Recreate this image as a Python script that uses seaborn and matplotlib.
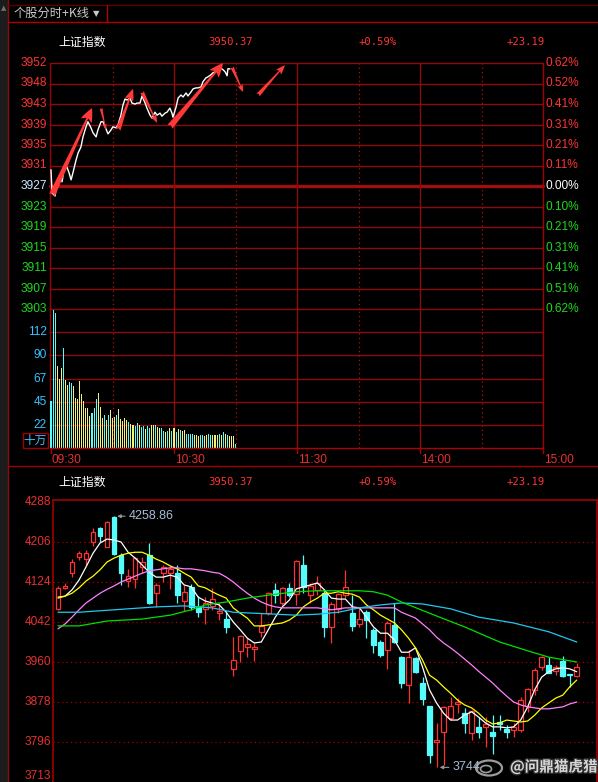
import matplotlib
matplotlib.use("Agg")
import matplotlib.pyplot as plt
import matplotlib.transforms as mtransforms
import matplotlib.patheffects as pe
from matplotlib.patches import Rectangle, Ellipse
from matplotlib.lines import Line2D
import numpy as np
import pandas as pd
import seaborn as sns

# ---------------- data ----------------
header_title = "个股分时+K线"
header_marker = "▼"
index_name = "上证指数"
last_price = "3950.37"
pct_change = "+0.59%"
abs_change = "+23.19"
prev_close = 3927.18
price_span = 24.35          # 0.62 % of prev close

price_labels_left = ["3952", "3948", "3943", "3939", "3935", "3931", "3927",
                     "3923", "3919", "3915", "3911", "3907", "3903"]
price_labels_right = ["0.62%", "0.52%", "0.41%", "0.31%", "0.21%", "0.11%", "0.00%",
                      "0.10%", "0.21%", "0.31%", "0.41%", "0.51%", "0.62%"]
time_labels = ["09:30", "10:30", "11:30", "14:00", "15:00"]
time_ticks = [0, 60, 120, 180, 240]
vol_tick_values = [112.0, 89.6, 67.2, 44.8, 22.4]
vol_tick_labels = ["112", "90", "67", "45", "22"]
vol_max = 134.4
vol_unit = "十万"

intraday_minutes = [0, 0.5, 2, 2.9, 4.4, 5.4, 6.3, 7.8, 8.8, 9.8,
                    10.7, 12.2, 13.2, 14.6, 15.6, 17.1, 18, 19.5, 20.5, 22,
                    22.9, 24.4, 25.4, 26.8, 27.8, 29.3, 30.2, 31.7, 32.7, 34.1,
                    35.1, 36.1, 37.1, 38.5, 39.5, 41, 42, 43.4, 44.4, 45.9,
                    46.8, 48.3, 49.3, 50.7, 51.7, 53.2, 54.1, 55.6, 56.6, 58,
                    59, 59.5, 61, 62, 63.4, 64.4, 65.9, 66.8, 68.3, 69.3,
                    70.7, 71.7, 73.2, 74.1, 75.6, 76.6, 78, 79, 80.5, 81.5,
                    82.9, 83.9, 84.9, 85.9, 86.3, 87.3]
intraday_price = [3930.4, 3925.8, 3925.2, 3927.8, 3929.4, 3928.0, 3930.4, 3930.9, 3929.8, 3928.4,
                  3929.8, 3932.3, 3933.7, 3934.9, 3936.9, 3938.9, 3939.9, 3938.7, 3937.7, 3936.9,
                  3938.3, 3939.9, 3939.9, 3938.5, 3937.5, 3938.3, 3938.9, 3938.7, 3939.3, 3941.2,
                  3943.2, 3944.4, 3944.2, 3944.6, 3943.6, 3943.4, 3943.6, 3943.6, 3945.0, 3943.6,
                  3942.6, 3941.2, 3940.6, 3941.8, 3941.2, 3941.6, 3941.0, 3941.6, 3941.8, 3942.6,
                  3941.6, 3940.8, 3942.8, 3944.6, 3945.2, 3944.8, 3945.6, 3945.0, 3945.8, 3946.4,
                  3946.6, 3946.6, 3946.8, 3947.8, 3948.6, 3948.8, 3949.2, 3949.6, 3949.8, 3950.4,
                  3950.5, 3950.2, 3949.8, 3949.0, 3950.4, 3950.37]

volume = [45, 133, 131, 79, 67, 77, 97, 66, 61, 64,
          63, 60, 48, 47, 65, 52, 45, 39, 39, 31,
          34, 39, 47, 53, 40, 29, 32, 27, 32, 37,
          29, 30, 32, 38, 28, 26, 29, 27, 25, 23,
          22, 21, 24, 22, 20, 21, 18, 21, 19, 22,
          22, 22, 20, 19, 19, 16, 15, 16, 19, 16,
          19, 15, 18, 17, 16, 17, 14, 14, 14, 14,
          13, 13, 12, 13, 13, 12, 13, 14, 13, 13,
          13, 13, 14, 13, 15, 14, 13, 12, 12, 12, 4]
volume_kind = list("cccyyycyyc" "cyyyyyyyyy" "cccyyycycy" "yycyyyyycy"
                   "yccyccyccy" "ycyyccycyc" "ycycyycccc" "yyyccyyccy" "yycycycyyy" "c")

# manual arrows drawn on the intraday chart (minute, price)
arrow_start_min = [0.5, 24.4, 32.7, 44.4, 58.0, 88.3, 101.0]
arrow_start_price = [3925.4, 3942.6, 3938.3, 3945.8, 3938.9, 3950.7, 3945.2]
arrow_end_min = [20.0, 26.8, 40.0, 51.7, 83.9, 93.7, 114.1]
arrow_end_price = [3942.6, 3938.3, 3946.4, 3939.7, 3951.5, 3945.8, 3951.1]

# daily K line
k_open = [4069, 4112, 4142, 4175, 4171, 4206, 4235, 4196, 4257, 4179,
          4126, 4130, 4155, 4179, 4101, 4142, 4142, 4142, 4085, 4114,
          4073, 4069, 4075, 4061, 4048, 3946, 3983, 3991, 3987, 4022,
          4060, 4108, 4081, 4112, 4099, 4159, 4097, 4108, 4101, 4032,
          4069, 4097, 4060, 4038, 4062, 4026, 4001, 3985, 4036, 3970,
          3913, 3968, 3917, 3870, 3796, 3816, 3845, 3874, 3855, 3814,
          3827, 3827, 3816, 3837, 3823, 3821, 3821, 3870, 3903, 3950,
          3954, 3942, 3962, 3935, 3931]
k_close = [4112, 4115, 4165, 4183, 4183, 4227, 4218, 4247, 4181, 4142,
           4136, 4173, 4165, 4081, 4118, 4155, 4151, 4097, 4103, 4073,
           4063, 4081, 4089, 4064, 4032, 3964, 4013, 3997, 3991, 4034,
           4101, 4097, 4112, 4097, 4167, 4114, 4116, 4122, 4032, 4079,
           4099, 4114, 4034, 4048, 4046, 3995, 3974, 4040, 4001, 3917,
           3970, 3940, 3884, 3769, 3800, 3868, 3870, 3878, 3835, 3860,
           3816, 3833, 3808, 3833, 3817, 3827, 3882, 3905, 3944, 3970,
           3937, 3950, 3931, 3933, 3950.37]
k_high = [4116, 4122, 4171, 4188, 4190, 4235, 4236, 4249, 4258.86, 4184,
          4151, 4175, 4175, 4204, 4122, 4159, 4157, 4159, 4118, 4120,
          4095, 4093, 4112, 4081, 4065, 4011, 4015, 4009, 3999, 4060,
          4103, 4122, 4114, 4122, 4169, 4179, 4122, 4136, 4108, 4083,
          4101, 4149, 4097, 4073, 4067, 4030, 4005, 4044, 4081, 3972,
          3985, 3970, 3929, 3870, 3835, 3870, 3888, 3886, 3866, 3862,
          3847, 3847, 3851, 3851, 3831, 3835, 3888, 3907, 3948, 3972,
          3970, 3954, 3972, 3935, 3958]
k_low = [4067, 4109, 4134, 4169, 4159, 4198, 4206, 4196, 4179, 4118,
         4114, 4112, 4142, 4079, 4073, 4124, 4110, 4081, 4065, 4067,
         4052, 4038, 4067, 4046, 4020, 3931, 3960, 3970, 3962, 4011,
         4056, 4081, 4077, 4093, 4077, 4101, 4081, 4097, 4011, 3999,
         4060, 4091, 4024, 4032, 4009, 3979, 3970, 3946, 3999, 3907,
         3876, 3937, 3872, 3753, 3744, 3749, 3841, 3855, 3814, 3800,
         3804, 3786, 3771, 3821, 3804, 3806, 3817, 3858, 3892, 3944,
         3937, 3933, 3929, 3909, 3929]
k_high_label = "4258.86"
k_low_label = "3744"

ma5 = [4093, 4095, 4108, 4128, 4155, 4183, 4204, 4212, 4210, 4206,
       4185, 4173, 4159, 4144, 4134, 4134, 4138, 4134, 4118, 4114,
       4093, 4085, 4081, 4077, 4062, 4042, 4026, 4009, 3999, 4001,
       4026, 4052, 4073, 4087, 4110, 4114, 4118, 4122, 4108, 4091,
       4089, 4089, 4073, 4071, 4052, 4032, 4019, 4019, 4005, 3980,
       3980, 3989, 3950, 3903, 3876, 3855, 3841, 3841, 3851, 3858,
       3847, 3835, 3827, 3827, 3825, 3827, 3841, 3868, 3903, 3929,
       3940, 3946, 3948, 3946, 3940]
ma10 = [4091, 4095, 4101, 4112, 4126, 4136, 4149, 4165, 4173, 4179,
        4183, 4185, 4185, 4179, 4171, 4165, 4157, 4151, 4142, 4134,
        4116, 4112, 4104, 4097, 4091, 4071, 4060, 4050, 4034, 4034,
        4036, 4038, 4040, 4046, 4056, 4073, 4083, 4091, 4101, 4101,
        4104, 4101, 4099, 4093, 4077, 4067, 4056, 4048, 4040, 4026,
        4009, 3989, 3964, 3933, 3923, 3909, 3896, 3882, 3872, 3866,
        3855, 3841, 3833, 3835, 3841, 3839, 3837, 3839, 3851, 3866,
        3876, 3886, 3892, 3909, 3923]
ma20 = [4028, 4038, 4052, 4067, 4081, 4091, 4101, 4109, 4116, 4124,
        4130, 4136, 4142, 4147, 4149, 4151, 4153, 4153, 4151, 4151,
        4149, 4147, 4144, 4142, 4134, 4124, 4112, 4101, 4091, 4083,
        4077, 4073, 4071, 4071, 4071, 4071, 4071, 4071, 4069, 4067,
        4069, 4071, 4071, 4071, 4071, 4071, 4071, 4071, 4071, 4062,
        4056, 4050, 4038, 4026, 4011, 3999, 3989, 3978, 3966, 3954,
        3941, 3929, 3917, 3903, 3890, 3878, 3872, 3868, 3866, 3864,
        3864, 3866, 3868, 3874, 3878]
ma_cyan_idx = [0, 3, 6, 10, 14, 18, 20, 22, 25, 28, 31, 34, 37, 40, 43, 46, 49, 52, 56, 60, 65, 70, 74]
ma_cyan = [4062, 4062, 4065, 4069, 4073, 4075, 4073, 4071, 4062, 4060, 4058, 4056, 4058,
           4062, 4071, 4077, 4081, 4079, 4069, 4052, 4040, 4022, 4001]
ma_green_idx = [0, 3, 7, 12, 16, 19, 21, 24, 27, 31, 34, 37, 40, 43, 45, 47, 49, 53, 58, 63, 67, 70, 74]
ma_green = [4034, 4034, 4044, 4048, 4056, 4067, 4077, 4083, 4091, 4099, 4104, 4106, 4106,
            4106, 4104, 4097, 4083, 4060, 4032, 4001, 3983, 3970, 3960]
k_label_values = [4288, 4206, 4124, 4042, 3960, 3878, 3796, 3713]
k_grid_values = [4206, 4124, 4042, 3960, 3878, 3796]

# ---------------- style ----------------
sns.set_style("dark")
plt.rcParams['font.family'] = ['Liberation Sans', 'Noto Sans CJK SC', 'DejaVu Sans']
plt.rcParams['figure.facecolor'] = 'black'

RED = '#FF3434'
GRID = '#8E0B0B'
CYAN = '#54FCFC'
YEL = '#F2F27A'
GREEN = '#1ED81E'
W, H = 598, 782


def fx(x):
    return x / W


def fy(y):
    return 1 - y / H


fig = plt.figure(figsize=(W / 100, H / 100), dpi=100, facecolor='black')

# left strip and frame lines
fig.add_artist(Rectangle((0, 0), fx(7), 1, transform=fig.transFigure, color='#1c1c1c', zorder=0))
fig.text(fx(3.5), fy(8), '▲', color='#707070', fontsize=5, ha='center', va='center',
         family=['DejaVu Sans'])
for (x0, y0, x1, y1, c, lw) in [(8, 0, 8, 782, GRID, 1.0), (8, 4.5, 598, 4.5, '#5a0000', 1.0),
                                (8, 21.5, 598, 21.5, '#B00000', 1.0), (107, 4.5, 107, 21.5, '#B00000', 1.0),
                                (8, 466, 598, 466, '#A00000', 1.0)]:
    fig.add_artist(Line2D([fx(x0), fx(x1)], [fy(y0), fy(y1)], transform=fig.transFigure, color=c, lw=lw))
fig.text(fx(14), fy(13.5), header_title, color='#C8C8C8', fontsize=8.8, ha='left', va='center',
         family=['Noto Sans CJK SC', 'DejaVu Sans'])
fig.text(fx(96), fy(13.5), header_marker, color='#C8C8C8', fontsize=6, ha='center', va='center',
         family=['DejaVu Sans'])

# title rows
for ty in (42, 482):
    fig.text(fx(58), fy(ty), index_name, color='white', fontsize=8.6, ha='left', va='center',
             family=['Noto Sans CJK SC'])
    fig.text(fx(208), fy(ty), last_price, color=RED, fontsize=7.6, ha='left', va='center',
             family=['DejaVu Sans Mono'])
    fig.text(fx(359), fy(ty), pct_change, color=RED, fontsize=7.6, ha='left', va='center',
             family=['DejaVu Sans Mono'])
    fig.text(fx(507), fy(ty), abs_change, color=RED, fontsize=7.6, ha='left', va='center',
             family=['DejaVu Sans Mono'])

# ---------------- intraday price ----------------
ax_p = fig.add_axes([fx(50), fy(309), 493 / W, 246 / H])
ax_p.set_facecolor('black')
step = price_span / 6
for k, (ll, rl) in enumerate(zip(price_labels_left, price_labels_right)):
    lvl = prev_close + (6 - k) * step
    ax_p.axhline(lvl, color='#A00E0E' if k == 6 else GRID, lw=2.4 if k == 6 else 1.0,
                 zorder=1, clip_on=False)
    if k < 6:
        cl, cr = RED, RED
    elif k == 6:
        cl, cr = '#CFE8FF', 'white'
    else:
        cl, cr = GREEN, GREEN
    ax_p.text(-0.006, lvl, ll, color=cl, fontsize=8.6, ha='right', va='center',
              transform=ax_p.get_yaxis_transform())
    ax_p.text(1.005, lvl, rl, color=cr, fontsize=8.6, ha='left', va='center',
              transform=ax_p.get_yaxis_transform())

sns.lineplot(x=intraday_minutes, y=intraday_price, color='white', lw=1.0, ax=ax_p,
             estimator=None, sort=False, zorder=5)

arrow_sizes = [(1.0, 0.85, 0.45), (0.45, 0.28, 0.2), (0.85, 0.65, 0.36), (0.6, 0.42, 0.28),
               (1.0, 0.85, 0.45), (0.55, 0.4, 0.25), (0.7, 0.5, 0.3)]
for (sm, sp, em, ep, (hl, hw, tw)) in zip(arrow_start_min, arrow_start_price, arrow_end_min,
                                          arrow_end_price, arrow_sizes):
    ax_p.annotate('', xy=(em, ep), xytext=(sm, sp), annotation_clip=False,
                  arrowprops=dict(arrowstyle=f'fancy,head_length={hl},head_width={hw},tail_width={tw}',
                                  color='#FF3838', lw=0, shrinkA=0, shrinkB=0, mutation_scale=10),
                  zorder=6)

# ---------------- intraday volume ----------------
ax_v = fig.add_axes([fx(50), fy(448), 493 / W, 139 / H])
ax_v.set_facecolor('black')
for v, lab in zip(vol_tick_values, vol_tick_labels):
    ax_v.axhline(v, color=GRID, lw=1.0, zorder=1)
    ax_v.text(-0.006, v, lab, color='#3CC0FF', fontsize=8.6, ha='right', va='center',
              transform=ax_v.get_yaxis_transform())
vcolors = [YEL if kd == 'y' else CYAN for kd in volume_kind]
ax_v.bar(range(len(volume)), volume, width=0.5, color=vcolors, linewidth=0, zorder=3)
ax_v.axhline(0, color='#B00000', lw=1.0, clip_on=False, zorder=4)
trans = mtransforms.blended_transform_factory(ax_v.transData, ax_v.transAxes)
for m, lab in zip(time_ticks, time_labels):
    ax_v.plot([m, m], [0, -0.035], color='#B00000', lw=1.0, transform=trans, clip_on=False)
    ax_v.text(m + 0.3, -0.045, lab, color='#E83030', fontsize=8.6, ha='left', va='top', transform=trans)

fig.add_artist(Rectangle((fx(23), fy(448)), 25 / W, 15 / H, transform=fig.transFigure,
                         fill=False, edgecolor='#A00000', lw=1))
fig.text(fx(35.5), fy(440.5), vol_unit, color='#3CC0FF', fontsize=8.4, ha='center', va='center',
         family=['Noto Sans CJK SC'])

for ax in (ax_p, ax_v):
    ax.set_xlim(-0.49, 240)
    for m in (60, 120, 180):
        ax.axvline(m, color=GRID, lw=1.0, zorder=1)
    for m in (30, 90, 150, 210):
        ax.axvline(m, color='#B01010', lw=0.9, ls=(0, (1, 2.5)), zorder=1)
    ax.axvline(240, color='#A00000', lw=1.0, clip_on=False, zorder=2)
    ax.axvline(-0.49, color='#A00000', lw=1.0, clip_on=False, zorder=2)
    ax.set_axis_off()
ax_p.set_ylim(prev_close - price_span, prev_close + price_span)
ax_v.set_ylim(0, vol_max)

# ---------------- daily K line ----------------
ax_k = fig.add_axes([fx(53), 0, 544 / W, 282 / H])
ax_k.set_facecolor('black')
for g in k_grid_values:
    ax_k.axhline(g, color='#A00000', lw=0.9, ls=(0, (1, 2.5)), zorder=1)
for v in k_label_values:
    # lowest label sits on the bottom edge; anchor it by its baseline so it stays visible
    ax_k.text(-0.003, v, str(v), color='#E83030', fontsize=8.6, ha='right',
              va='bottom' if v == min(k_label_values) else 'center',
              transform=ax_k.get_yaxis_transform(), clip_on=False)

for i, (o, h, l, c) in enumerate(zip(k_open, k_high, k_low, k_close)):
    up = c >= o
    col = '#FF3232' if up else CYAN
    ax_k.vlines(i, l, h, color=col, lw=0.9, zorder=2)
    lo_b = min(o, c)
    hgt = max(abs(c - o), 1.2)
    ax_k.add_patch(Rectangle((i - 0.34, lo_b), 0.68, hgt, facecolor='black' if up else CYAN,
                             edgecolor=col, lw=0.9, zorder=3))

ma_df = pd.concat([
    pd.DataFrame({'idx': range(len(ma5)), 'val': ma5, 'ma': 'MA5'}),
    pd.DataFrame({'idx': range(len(ma10)), 'val': ma10, 'ma': 'MA10'}),
    pd.DataFrame({'idx': range(len(ma20)), 'val': ma20, 'ma': 'MA20'}),
    pd.DataFrame({'idx': ma_cyan_idx, 'val': ma_cyan, 'ma': 'MAC'}),
    pd.DataFrame({'idx': ma_green_idx, 'val': ma_green, 'ma': 'MAG'}),
])
sns.lineplot(data=ma_df, x='idx', y='val', hue='ma', ax=ax_k, legend=False, estimator=None,
             palette={'MA5': '#FFFFFF', 'MA10': '#FFFF00', 'MA20': '#FF80FF',
                      'MAC': '#20C8F0', 'MAG': '#00E000'},
             linewidth=0.9, zorder=4)

hi_i = int(np.argmax(k_high))
lo_i = int(np.argmin(k_low))
ax_k.annotate(k_high_label, xy=(hi_i + 0.45, k_high[hi_i]), xytext=(8, 0), textcoords='offset points',
              color='#A8BCD6', fontsize=9, ha='left', va='center', zorder=6,
              arrowprops=dict(arrowstyle='-|>', color='#9098A0', lw=0.8, mutation_scale=5,
                              shrinkA=0, shrinkB=0))
ax_k.annotate(k_low_label, xy=(lo_i + 0.45, k_low[lo_i]), xytext=(9, 0), textcoords='offset points',
              color='#A8BCD6', fontsize=9, ha='left', va='center', zorder=6, annotation_clip=False,
              arrowprops=dict(arrowstyle='-|>', color='#9098A0', lw=0.8, mutation_scale=5,
                              shrinkA=0, shrinkB=0))

ax_k.set_xlim(-0.713, 76.89)
ax_k.set_ylim(3714.0, 4292.1)
ax_k.axhline(4292.1, color='#A00000', lw=1.2, clip_on=False, zorder=5)
ax_k.axvline(-0.713, color='#A00000', lw=1.2, clip_on=False, zorder=5)
ax_k.axvline(76.89, color='#A00000', lw=1.2, clip_on=False, zorder=5)
ax_k.set_axis_off()

# watermark
fig.add_artist(Ellipse((fx(489), fy(768)), 26 / W, 15 / H, transform=fig.transFigure,
                       fill=False, edgecolor='#B8B8B8', lw=1.6, alpha=0.85, zorder=10))
fig.add_artist(Ellipse((fx(486), fy(769)), 11 / W, 7 / H, transform=fig.transFigure,
                       fill=False, edgecolor='#B8B8B8', lw=1.2, alpha=0.85, zorder=10))
fig.text(fx(510), fy(767), '@问鼎猫虎猎', color='#E8E8E8', fontsize=10.5, fontweight='bold',
         ha='left', va='center', family=['Noto Sans CJK SC'], alpha=0.9, zorder=10,
         path_effects=[pe.withStroke(linewidth=2, foreground='#303030')])

fig.savefig('out.png', dpi=100, facecolor='black')
